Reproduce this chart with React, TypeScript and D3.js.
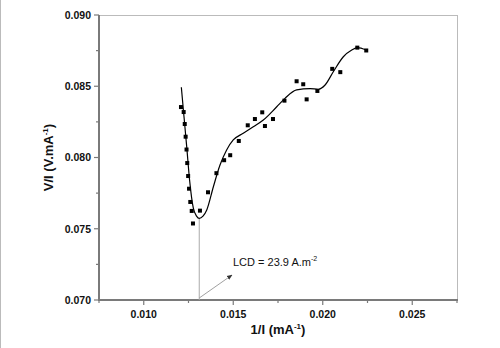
import * as d3 from "d3"

// measured points, 1/I (mA^-1) vs V/I (V.mA^-1)
const invI = [
  0.01208, 0.01223, 0.01229, 0.01234, 0.01239, 0.01243, 0.01248, 0.01253, 0.0126, 0.01268,
  0.01275, 0.01314, 0.01359, 0.01406, 0.01449, 0.01483, 0.01531, 0.01581, 0.01621, 0.01662,
  0.01677, 0.01722, 0.01786, 0.01854, 0.01891, 0.0191, 0.0197, 0.02053, 0.02098, 0.02193,
  0.02243,
]
const vOverI = [
  0.08354, 0.08319, 0.08235, 0.08146, 0.08056, 0.07961, 0.0787, 0.07781, 0.07688, 0.07625,
  0.07537, 0.07627, 0.07756, 0.0789, 0.07981, 0.08016, 0.08116, 0.08226, 0.0827, 0.08317,
  0.08221, 0.0827, 0.08399, 0.08535, 0.08514, 0.08408, 0.08467, 0.08622, 0.08599, 0.08771,
  0.08751,
]

// fitted curve
const fitX = [
  0.0121, 0.01225, 0.0124, 0.01256, 0.01277, 0.01295, 0.0131, 0.01331, 0.01352, 0.01389,
  0.01426, 0.01463, 0.015, 0.01556, 0.01612, 0.01668, 0.01743, 0.01789, 0.01854, 0.01929,
  0.01975, 0.02013, 0.02059, 0.02115, 0.02162, 0.02193, 0.02243,
]
const fitY = [
  0.08493, 0.08284, 0.08076, 0.07842, 0.07644, 0.07589, 0.07573, 0.07589, 0.07632, 0.07795,
  0.07947, 0.08053, 0.08123, 0.0817, 0.08216, 0.08263, 0.08356, 0.08415, 0.08474, 0.08483,
  0.08479, 0.08509, 0.08602, 0.08707, 0.08754, 0.08771, 0.08754,
]

const xTicks = [0.01, 0.015, 0.02, 0.025]
const xMinor = [0.0075, 0.0125, 0.0175, 0.0225, 0.0275]
const yTicks = [0.07, 0.075, 0.08, 0.085, 0.09]
const yMinor = [0.0725, 0.0775, 0.0825, 0.0875]

const lcdX = 0.0131
const lcdY = 0.07573
const lcdLabel = "LCD = 23.9 A.m"

export default function App() {
  const W = 500
  const H = 348
  const left = 99
  const right = 457
  const top = 15
  const bottom = 300

  const x = d3.scaleLinear().domain([0.0075, 0.0275]).range([left, right])
  const y = d3.scaleLinear().domain([0.07, 0.09]).range([bottom, top])

  const fitPts: [number, number][] = fitX.map((v, i) => [v, fitY[i]])
  const line = d3
    .line<[number, number]>()
    .x((d) => x(d[0]))
    .y((d) => y(d[1]))
    .curve(d3.curveMonotoneX)

  const font = "'Liberation Sans', Arial, sans-serif"
  const axisCol = "#7a7a7a"

  const ax0 = x(lcdX)
  const ay0 = bottom - 2
  const ax1 = 232
  const ay1 = 275

  return (
    <svg
      width={W}
      height={H}
      style={{ position: "absolute", left: 0, top: 0, background: "#fff" }}
      fontFamily={font}
    >
      <defs>
        <marker id="arr" viewBox="0 0 10 10" refX="9" refY="5" markerWidth="7" markerHeight="7" orient="auto">
          <path d="M0,1 L10,5 L0,9 Z" fill="#333" />
        </marker>
      </defs>
      <rect width={W} height={H} fill="#fff" />
      <line x1={0.5} x2={0.5} y1={0} y2={H} stroke="#bbb" />

      {/* frame */}
      <line x1={left} x2={right} y1={top + 0.5} y2={top + 0.5} stroke="#bbb" />
      <line x1={right + 0.5} x2={right + 0.5} y1={top} y2={bottom} stroke="#bbb" />

      {/* y axis */}
      <line x1={left} x2={left} y1={top} y2={bottom + 1} stroke={axisCol} strokeWidth={2} />
      {yTicks.map((t) => (
        <g key={"y" + t}>
          <line x1={left - 5} x2={left} y1={y(t)} y2={y(t)} stroke={axisCol} strokeWidth={1.2} />
          <text x={91} y={y(t)} dy="0.36em" textAnchor="end" fontSize={10.5} fontWeight="bold" fill="#111">
            {t.toFixed(3)}
          </text>
        </g>
      ))}
      {yMinor.map((t) => (
        <line key={"ym" + t} x1={left - 3} x2={left} y1={y(t)} y2={y(t)} stroke={axisCol} strokeWidth={1.2} />
      ))}

      {/* x axis */}
      <line x1={left - 1} x2={right + 1} y1={bottom} y2={bottom} stroke={axisCol} strokeWidth={2} />
      {xTicks.map((t) => (
        <g key={"x" + t}>
          <line x1={x(t)} x2={x(t)} y1={bottom} y2={bottom + 5} stroke={axisCol} strokeWidth={1.2} />
          <text x={x(t)} y={317.5} textAnchor="middle" fontSize={10.5} fontWeight="bold" fill="#111">
            {t.toFixed(3)}
          </text>
        </g>
      ))}
      {xMinor.map((t) => (
        <line key={"xm" + t} x1={x(t)} x2={x(t)} y1={bottom} y2={bottom + 3} stroke={axisCol} strokeWidth={1.2} />
      ))}

      {/* axis titles */}
      <text x={(left + right) / 2} y={334} textAnchor="middle" fontSize={13} fontWeight="bold" fill="#111">
        1/I (mA<tspan dy={-5} fontSize={8}>-1</tspan>
        <tspan dy={5}>)</tspan>
      </text>
      <text
        transform={`translate(53,${(top + bottom) / 2}) rotate(-90)`}
        textAnchor="middle"
        fontSize={13}
        fontWeight="bold"
        fill="#111"
      >
        V/I (V.mA<tspan dy={-5} fontSize={8}>-1</tspan>
        <tspan dy={5}>)</tspan>
      </text>

      {/* LCD annotation */}
      <line x1={ax0} x2={ax0} y1={y(lcdY)} y2={bottom} stroke="#aaa" strokeWidth={1} />
      <line x1={ax0} y1={ay0} x2={ax1} y2={ay1} stroke="#888" strokeWidth={0.8} markerEnd="url(#arr)" />
      <text x={233} y={266} fontSize={11} fill="#111">
        {lcdLabel}
        <tspan dy={-5} fontSize={7}>-2</tspan>
      </text>

      {/* fit curve */}
      <path d={line(fitPts) ?? ""} fill="none" stroke="#000" strokeWidth={1.2} />

      {/* data */}
      {invI.map((v, i) => (
        <rect key={"p" + i} x={x(v) - 2} y={y(vOverI[i]) - 2} width={4} height={4} fill="#000" />
      ))}
    </svg>
  )
}
